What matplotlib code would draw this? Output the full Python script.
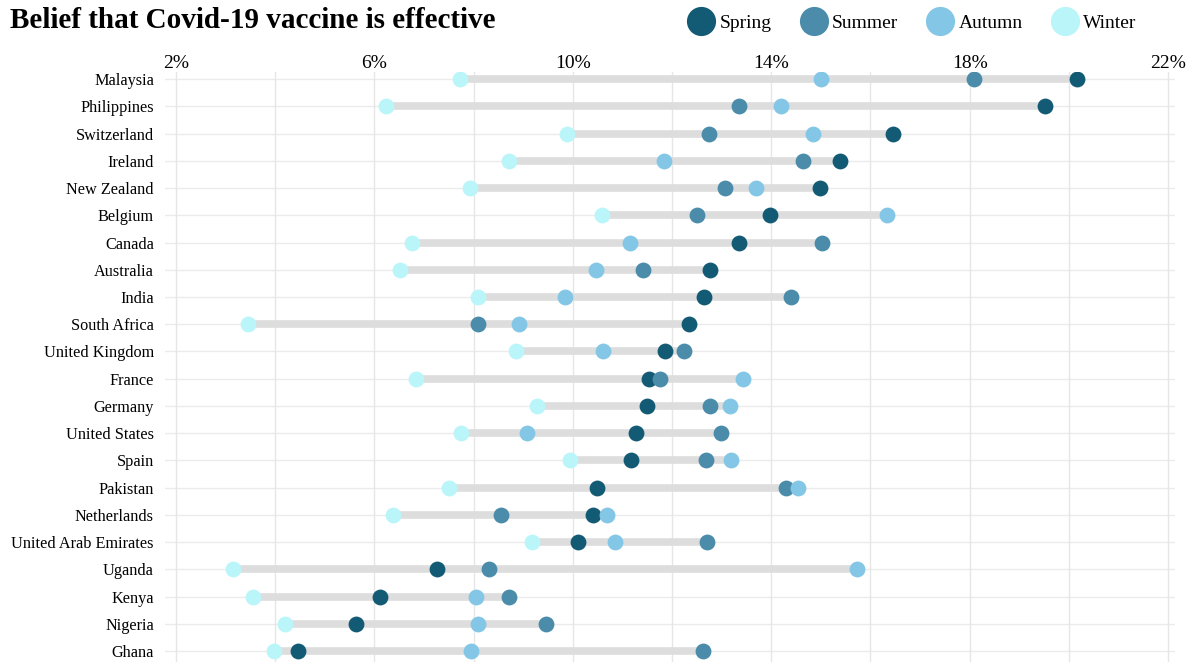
import matplotlib
matplotlib.use("Agg")
import matplotlib.pyplot as plt
from matplotlib.lines import Line2D
import numpy as np

countries = ["Malaysia", "Philippines", "Switzerland", "Ireland", "New Zealand",
             "Belgium", "Canada", "Australia", "India", "South Africa",
             "United Kingdom", "France", "Germany", "United States", "Spain",
             "Pakistan", "Netherlands", "United Arab Emirates", "Uganda", "Kenya",
             "Nigeria", "Ghana"]

spring = [20.17, 19.51, 16.45, 15.39, 14.98, 13.98, 13.35, 12.77, 12.65, 12.35,
          11.86, 11.54, 11.50, 11.28, 11.18, 10.49, 10.41, 10.10, 7.26, 6.11,
          5.64, 4.46]
summer = [18.08, 13.35, 12.75, 14.64, 13.07, 12.50, 15.03, 11.42, 14.40, 8.08,
          12.25, 11.75, 12.77, 12.98, 12.68, 14.30, 8.55, 12.71, 8.32, 8.71,
          9.46, 12.62]
autumn = [15.01, 14.20, 14.85, 11.83, 13.70, 16.33, 11.15, 10.46, 9.85, 8.92,
          10.61, 13.43, 13.16, 9.07, 13.19, 14.55, 10.68, 10.85, 15.73, 8.05,
          8.08, 7.94]
winter = [7.72, 6.24, 9.89, 8.72, 7.92, 10.59, 6.75, 6.51, 8.08, 3.46,
          8.86, 6.84, 9.28, 7.75, 9.95, 7.50, 6.37, 9.17, 3.16, 3.56,
          4.20, 3.98]

seasons = ["Spring", "Summer", "Autumn", "Winter"]
colors = ["#135a74", "#4b8cab", "#84c6e6", "#baf5f9"]
xticks = [2, 4, 6, 8, 10, 12, 14, 16, 18, 20, 22]
xlabels = ["2%", "", "6%", "", "10%", "", "14%", "", "18%", "", "22%"]

SERIF = ["Liberation Serif", "DejaVu Serif"]
plt.rcParams["font.family"] = SERIF

fig = plt.figure(figsize=(11.93, 6.62), dpi=100)
ax = fig.add_axes([165 / 1193, 0.0, (1175 - 165) / 1193, 1 - 72 / 662])

y = np.arange(len(countries))
data = [spring, summer, autumn, winter]
arr = np.array(data)
lo = arr.min(axis=0)
hi = arr.max(axis=0)

# row gridlines
for yi in y:
    ax.axhline(yi, color="#ebebeb", lw=1.0, zorder=0)
# range bars
ax.hlines(y, lo, hi, color="#dddddd", lw=5.5, zorder=1, capstyle="butt")
for vals, c in zip(data, colors):
    ax.scatter(vals, y, s=130, color=c, zorder=3, linewidths=0)

ax.set_xlim(1.78, 22.14)
ax.set_ylim(21.4, -0.26)
ax.set_xticks(xticks)
ax.set_xticklabels(xlabels, fontsize=14)
ax.set_yticks(y)
ax.set_yticklabels(countries, fontsize=11.7)
ax.xaxis.tick_top()
ax.tick_params(axis="x", length=0, pad=0)
ax.tick_params(axis="y", length=0, pad=8)
ax.grid(axis="x", color="#e6e6e6", lw=1.0, zorder=0)
ax.set_axisbelow(True)
for s in ax.spines.values():
    s.set_visible(False)

fig.text(0.008, 1 - 21 / 662, "Belief that Covid-19 vaccine is effective",
         fontsize=21, fontweight="bold", va="center", ha="left")

handles = [Line2D([], [], marker="o", ls="", markersize=21, color=c, markeredgewidth=0)
           for c in colors]
fig.legend(handles, seasons, ncol=4, loc="center left",
           bbox_to_anchor=(682 / 1193, 1 - 23 / 662), frameon=False,
           fontsize=14, handletextpad=0.35, columnspacing=1.55, borderaxespad=0,
           handlelength=1.2)

fig.savefig("out.png", dpi=100)
